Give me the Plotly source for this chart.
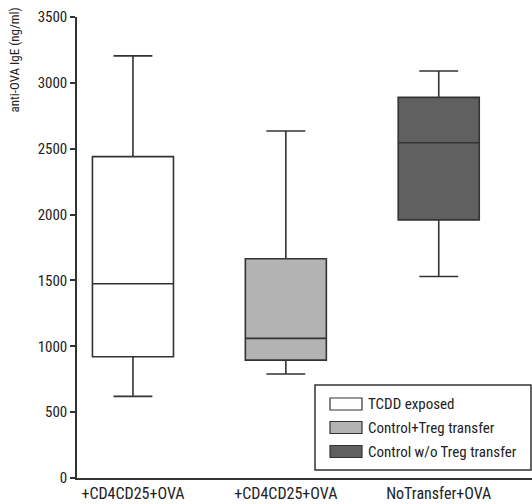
import plotly.graph_objects as go

categories = ["+CD4CD25+OVA", "+CD4CD25+OVA", "NoTransfer+OVA"]
series = ["TCDD exposed", "Control+Treg transfer", "Control w/o Treg transfer"]
lower = [620, 790, 1530]
q1 = [920, 895, 1960]
median = [1475, 1060, 2545]
q3 = [2440, 1665, 2890]
upper = [3205, 2635, 3090]
fills = ["#ffffff", "#b3b3b3", "#606060"]

FONT = "Liberation Sans Narrow, Roboto Condensed, DejaVu Sans Condensed, Arial Narrow, sans-serif"

L, T, W, H = 77, 17, 455, 461


def px(x):
    return (x - L) / W


def py(y):
    return (T + H - y) / H


fig = go.Figure()
for i, name in enumerate(series):
    fig.add_trace(go.Box(
        x=[i], q1=[q1[i]], median=[median[i]], q3=[q3[i]],
        lowerfence=[lower[i]], upperfence=[upper[i]],
        name=name, fillcolor=fills[i],
        line=dict(color="#333333", width=1.6),
        width=0.53, whiskerwidth=0.48, boxpoints=False,
        showlegend=False,
    ))

shapes = [dict(type="rect", xref="paper", yref="paper",
               x0=px(315), x1=px(531), y0=py(470), y1=py(385),
               line=dict(color="#333333", width=1.5), fillcolor="white", layer="above")]
annotations = [dict(
    text="anti-OVA IgE (ng/ml)", xref="paper", yref="paper",
    x=px(14), y=py(6), xanchor="center", yanchor="top",
    textangle=-90, showarrow=False, font=dict(size=13, family=FONT),
)]
centers = [404, 427.5, 451.5]
for i, name in enumerate(series):
    c = centers[i]
    shapes.append(dict(type="rect", xref="paper", yref="paper",
                       x0=px(330), x1=px(362), y0=py(c + 6), y1=py(c - 6),
                       line=dict(color="#333333", width=1.2), fillcolor=fills[i], layer="above"))
    annotations.append(dict(text=name, xref="paper", yref="paper",
                            x=px(366), y=py(c), xanchor="left", yanchor="middle",
                            showarrow=False, font=dict(size=15, family=FONT)))

fig.update_layout(
    width=532, height=504,
    margin=dict(l=L, r=0, t=T, b=504 - T - H),
    paper_bgcolor="white", plot_bgcolor="white",
    font=dict(family=FONT, size=15, color="#222222"),
    boxmode="overlay",
    showlegend=False,
    xaxis=dict(
        range=[-0.366, 2.61], tickmode="array", tickvals=[0, 1, 2],
        ticktext=categories, showline=True, linecolor="#333333", linewidth=1.5,
        ticks="", showgrid=False, zeroline=False, fixedrange=True,
        tickfont=dict(size=16),
    ),
    yaxis=dict(
        range=[0, 3500], tickvals=[0, 500, 1000, 1500, 2000, 2500, 3000, 3500],
        showline=True, linecolor="#333333", linewidth=1.5,
        ticks="outside", ticklen=5, tickcolor="#333333", tickwidth=1.5,
        showgrid=False, zeroline=False, tickfont=dict(size=15),
    ),
    shapes=shapes,
    annotations=annotations,
)

fig.write_html("out.html", config={"displayModeBar": False},
               post_script="document.body.style.margin='0';")
